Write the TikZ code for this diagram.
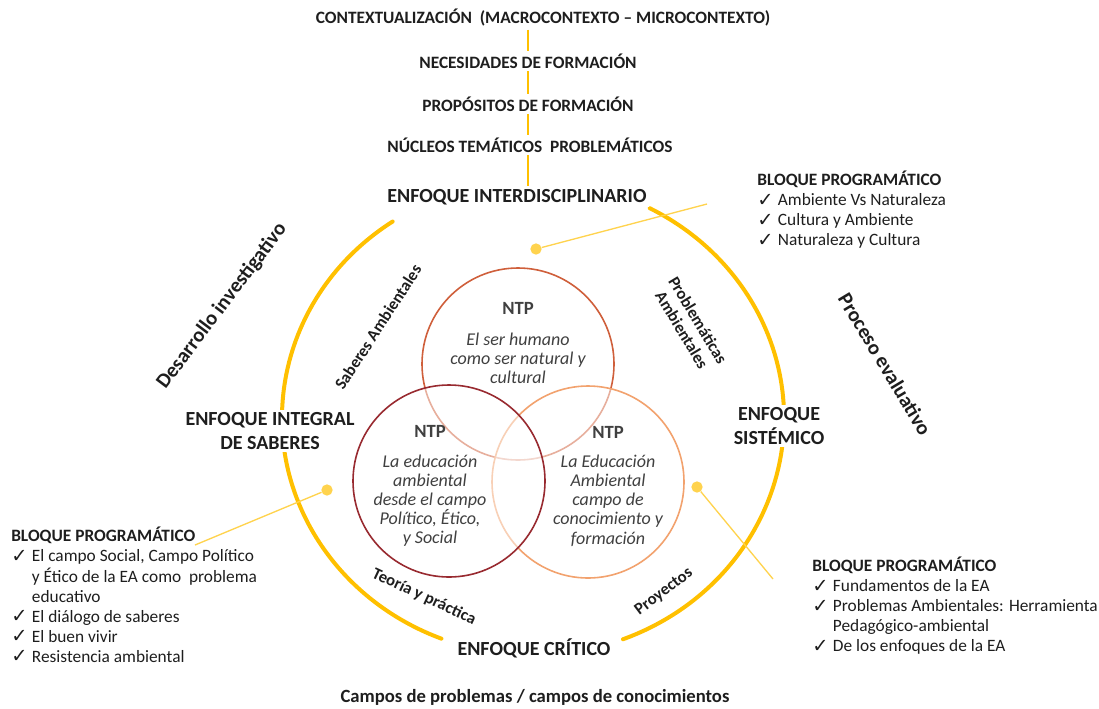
\documentclass[tikz,border=0pt]{standalone}
\usepackage{fontspec}
\setmainfont{Carlito}
\newfontfamily\symfont{DejaVu Sans}
\usetikzlibrary{positioning}
\definecolor{gold}{HTML}{FFC000}
\definecolor{lemon}{HTML}{FFD34E}
\definecolor{ink}{HTML}{1E1E1E}
\definecolor{soft}{HTML}{404040}
\definecolor{rust}{HTML}{CF5F3B}
\definecolor{wine}{HTML}{982A30}
\definecolor{peach}{HTML}{F2A26E}
\newcommand{\chk}{\makebox[15.5pt][l]{\symfont\fontsize{14.5}{12}\selectfont\raisebox{-0.5pt}{✓}}}
\tikzset{
  ring/.style={draw=gold, line width=3pt, line cap=round},
  spine/.style={draw=gold, line width=2.2pt},
  link/.style={draw=lemon, line width=1pt},
  pin/.style={circle, fill=lemon, inner sep=0pt, minimum size=8.5pt},
  enf/.style={text=ink, font=\bfseries\fontsize{15}{17.3}\selectfont, fill=white, align=center, inner sep=2pt},
  chainlab/.style={text=ink, font=\bfseries\fontsize{13}{15}\selectfont, fill=white, inner sep=2pt},
  side/.style={text=ink, font=\bfseries\fontsize{15.5}{17}\selectfont},
  tag/.style={text=ink, font=\bfseries\fontsize{12.5}{14}\selectfont, align=center},
  venn/.style={line width=1.2pt, fill=white, fill opacity=0.5},
  ntp/.style={text=soft, font=\itshape\fontsize{13.5}{14.3}\selectfont, align=center},
  bloque/.style={text=ink, font=\fontsize{13}{15}\selectfont, inner sep=0pt, anchor=north west},
}

\begin{document}
\begin{tikzpicture}[x=0.75pt, y=-0.75pt]
\useasboundingbox (0,0) rectangle (1099,708);

% outer ring, broken at the top and the bottom
\coordinate (ringc) at (533,418);
\draw[ring] (ringc) ++(-291:251 and 237) arc[start angle=-291, end angle=-422.3, x radius=251, y radius=237];
\draw[ring] (ringc) ++(-124:251 and 237) arc[start angle=-124, end angle=-248.6, x radius=251, y radius=237];

% top chain
\node[chainlab] (ctx) at (543,18) {CONTEXTUALIZACIÓN\ \ (MACROCONTEXTO -- MICROCONTEXTO)};
\node[chainlab] (nec) at (528,61) {NECESIDADES DE FORMACIÓN};
\node[chainlab] (prop) at (528,104) {PROPÓSITOS DE FORMACIÓN};
\node[chainlab] (nuc) at (530,145) {NÚCLEOS TEMÁTICOS\ \ PROBLEMÁTICOS};
\node[enf] (interd) at (517,197) {ENFOQUE INTERDISCIPLINARIO};
\draw[spine] (ctx.south -| nec) -- (nec.north);
\draw[spine] (nec.south) -- (prop.north);
\draw[spine] (prop.south) -- (prop.south |- nuc.north);
\draw[spine] (nuc.south -| prop) -- (prop.south |- interd.north);

% the other approaches
\node[enf] (integral) at (270,431) {ENFOQUE INTEGRAL\\DE SABERES};
\node[enf] (sistem) at (779,426) {ENFOQUE\\SISTÉMICO};
\node[enf] (critico) at (534,648) {ENFOQUE CRÍTICO};

% venn of the NTP
\draw[venn, draw=rust] (518,364) circle[radius=96];
\draw[venn, draw=peach] (588,482) circle[radius=96];
\draw[venn, draw=wine] (449,481) circle[radius=96];
\node[ntp] (ntpa) at (518,343) {\textbf{\upshape\fontsize{14}{14}\selectfont NTP}\\[9pt]El ser humano\\como ser natural y\\cultural};
\node[ntp] (ntpb) at (430,486) {\textbf{\upshape\fontsize{14}{14}\selectfont NTP}\\[8pt]La educación\\ambiental\\desde el campo\\Político, Ético,\\y Social};
\node[ntp] (ntpc) at (608,486) {\textbf{\upshape\fontsize{14}{14}\selectfont NTP}\\[8pt]La Educación\\Ambiental\\campo de\\conocimiento y\\formación};

% rotated labels
\node[side, rotate=53] (desarr) at (222,306) {Desarrollo investigativo};
\node[side, rotate=-59] (proceso) at (885,364) {Proceso evaluativo};
\node[tag, rotate=57] (saberes) at (378,327) {Saberes Ambientales};
\node[tag, rotate=-59] (problem) at (690,325) {Problemáticas\\Ambientales};
\node[tag, rotate=-25] (teoria) at (424,597) {Teoría y práctica};
\node[tag, rotate=37] (proyect) at (664,592) {Proyectos};
\node[tag, font=\bfseries\fontsize{14}{16}\selectfont] (campos) at (535,697) {Campos de problemas / campos de conocimientos};

% programme blocks
\node[bloque] (blqa) at (757,171) {\begin{tabular}{@{}l@{}l@{}}
\multicolumn{2}{@{}l@{}}{\textbf{BLOQUE PROGRAMÁTICO}}\\
\chk & Ambiente Vs Naturaleza\\
\chk & Cultura y Ambiente\\
\chk & Naturaleza y Cultura
\end{tabular}};
\node[bloque] (blqb) at (11,527) {\begin{tabular}{@{}l@{}l@{}}
\multicolumn{2}{@{}l@{}}{\textbf{BLOQUE PROGRAMÁTICO}}\\
\chk & El campo Social, Campo Político\\
 & y Ético de la EA como\ \ problema\\
 & educativo\\
\chk & El diálogo de saberes\\
\chk & El buen vivir\\
\chk & Resistencia ambiental
\end{tabular}};
\node[bloque] (blqc) at (812,557) {\begin{tabular}{@{}l@{}l@{}}
\multicolumn{2}{@{}l@{}}{\textbf{BLOQUE PROGRAMÁTICO}}\\
\chk & Fundamentos de la EA\\
\chk & Problemas Ambientales: Herramienta\\
 & Pedagógico-ambiental\\
\chk & De los enfoques de la EA
\end{tabular}};

% pins to the blocks
\node[pin] (pina) at (536,249) {};
\node[pin] (pinb) at (327,490) {};
\node[pin] (pinc) at (697,487) {};
\coordinate (tipa) at (707,204);
\coordinate (tipb) at (195,545);
\coordinate (tipc) at (773,579);
\draw[link] (pina) -- (tipa);
\draw[link] (pinb) -- (tipb);
\draw[link] (pinc) -- (tipc);
\end{tikzpicture}
\end{document}
